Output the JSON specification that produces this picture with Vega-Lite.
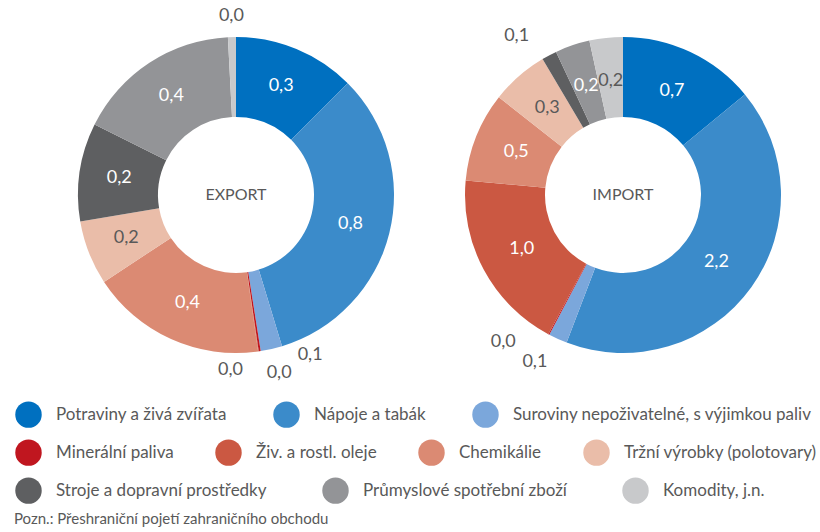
{
  "$schema": "https://vega.github.io/schema/vega-lite/v6.json",
  "background": "white",
  "padding": {"left": 14, "top": 0, "right": 0, "bottom": 0},
  "config": {
    "view": {"stroke": null},
    "font": "Lato",
    "locale": {"number": {"decimal": ",", "thousands": " ", "grouping": [3], "currency": ["", " Kč"]}},
    "legend": {"symbolType": "circle", "symbolSize": 700, "symbolStrokeWidth": 0, "symbolOpacity": 1, "labelFontSize": 17, "labelColor": "#595959", "labelFont": "Lato", "labelLimit": 0, "labelOffset": 14, "title": null, "orient": "right", "direction": "horizontal", "offset": 0, "padding": 0}
  },
  "datasets": {
    "trade": [
      {"dir": "EXPORT", "cat": "Potraviny a živá zvířata", "value": 0.306},
      {"dir": "EXPORT", "cat": "Nápoje a tabák", "value": 0.803},
      {"dir": "EXPORT", "cat": "Suroviny nepoživatelné, s výjimkou paliv", "value": 0.054},
      {"dir": "EXPORT", "cat": "Minerální paliva", "value": 0.005},
      {"dir": "EXPORT", "cat": "Živ. a rostl. oleje", "value": 0.0014},
      {"dir": "EXPORT", "cat": "Chemikálie", "value": 0.44},
      {"dir": "EXPORT", "cat": "Tržní výrobky (polotovary)", "value": 0.161},
      {"dir": "EXPORT", "cat": "Stroje a dopravní prostředky", "value": 0.246},
      {"dir": "EXPORT", "cat": "Průmyslové spotřební zboží", "value": 0.412},
      {"dir": "EXPORT", "cat": "Komodity, j.n.", "value": 0.02},
      {"dir": "IMPORT", "cat": "Potraviny a živá zvířata", "value": 0.739},
      {"dir": "IMPORT", "cat": "Nápoje a tabák", "value": 2.202},
      {"dir": "IMPORT", "cat": "Suroviny nepoživatelné, s výjimkou paliv", "value": 0.101},
      {"dir": "IMPORT", "cat": "Minerální paliva", "value": 0.006},
      {"dir": "IMPORT", "cat": "Živ. a rostl. oleje", "value": 0.982},
      {"dir": "IMPORT", "cat": "Chemikálie", "value": 0.482},
      {"dir": "IMPORT", "cat": "Tržní výrobky (polotovary)", "value": 0.31},
      {"dir": "IMPORT", "cat": "Stroje a dopravní prostředky", "value": 0.081},
      {"dir": "IMPORT", "cat": "Průmyslové spotřební zboží", "value": 0.187},
      {"dir": "IMPORT", "cat": "Komodity, j.n.", "value": 0.18}
    ]
  },
  "title": {"text": "Pozn.: Přeshraniční pojetí zahraničního obchodu", "orient": "bottom", "anchor": "start", "fontSize": 15, "fontWeight": "normal", "font": "Lato", "color": "#595959", "offset": 8},
  "spacing": 11,
  "resolve": {"scale": {"color": "independent"}},
  "vconcat": [
    {
      "spacing": 7,
      "hconcat": [
        {
          "width": 444, "height": 390,
          "data": {"name": "trade"},
          "transform": [
            {"filter": "datum.dir === 'EXPORT'"},
            {"stack": "value", "groupby": ["dir"], "as": ["v0", "v1"]},
            {"calculate": "(datum.v0 + datum.v1) / 2", "as": "vm"}
          ],
          "layer": [
            {
              "mark": {"type": "arc", "innerRadius": 78, "outerRadius": 158},
              "encoding": {
                "theta": {"field": "v1", "type": "quantitative", "scale": {"nice": false, "zero": true}},
                "theta2": {"field": "v0"},
                "color": {"field": "cat", "type": "nominal", "legend": null,
                  "scale": {"domain": ["Potraviny a živá zvířata", "Nápoje a tabák", "Suroviny nepoživatelné, s výjimkou paliv", "Minerální paliva", "Živ. a rostl. oleje", "Chemikálie", "Tržní výrobky (polotovary)", "Stroje a dopravní prostředky", "Průmyslové spotřební zboží", "Komodity, j.n."],
                    "range": ["#0070c0", "#3b8bca", "#7ba7db", "#c0161f", "#cb5842", "#db8a73", "#eabda9", "#5e5f61", "#939497", "#c8c9cb"]}}
              }
            },
            {
              "transform": [{"filter": "datum.value >= 0.15"}],
              "mark": {"type": "text", "radius": 118, "fontSize": 18},
              "encoding": {
                "theta": {"field": "vm", "type": "quantitative"},
                "text": {"field": "value", "type": "quantitative", "format": ".1f"},
                "color": {"condition": {"test": "datum.cat === 'Tržní výrobky (polotovary)' || datum.cat === 'Komodity, j.n.'", "value": "#595959"}, "value": "white"}
              }
            },
            {
              "transform": [{"filter": "datum.cat === 'Komodity, j.n.'"}],
              "mark": {"type": "text", "radius": 179, "fontSize": 18, "color": "#595959"},
              "encoding": {"theta": {"field": "vm", "type": "quantitative"}, "text": {"field": "value", "type": "quantitative", "format": ".1f"}}
            },
            {
              "transform": [{"filter": "datum.cat === 'Suroviny nepoživatelné, s výjimkou paliv'"}],
              "mark": {"type": "text", "radius": 170, "dx": 36, "dy": -6, "fontSize": 18, "color": "#595959"},
              "encoding": {"theta": {"field": "vm", "type": "quantitative"}, "text": {"field": "value", "type": "quantitative", "format": ".1f"}}
            },
            {
              "transform": [{"filter": "datum.cat === 'Minerální paliva'"}],
              "mark": {"type": "text", "radius": 170, "dx": -31, "dy": 7, "fontSize": 18, "color": "#595959"},
              "encoding": {"theta": {"field": "vm", "type": "quantitative"}, "text": {"field": "value", "type": "quantitative", "format": ".1f"}}
            },
            {
              "transform": [{"filter": "datum.cat === 'Živ. a rostl. oleje'"}],
              "mark": {"type": "text", "radius": 170, "dx": 19, "dy": 10, "fontSize": 18, "color": "#595959"},
              "encoding": {"theta": {"field": "vm", "type": "quantitative"}, "text": {"field": "value", "type": "quantitative", "format": ".1f"}}
            },
            {
              "transform": [{"filter": "datum.cat === 'Potraviny a živá zvířata'"}],
              "mark": {"type": "text", "fontSize": 16, "color": "#595959"},
              "encoding": {"text": {"field": "dir", "type": "nominal"}}
            }
          ]
        },
        {
          "width": 316, "height": 390,
          "data": {"name": "trade"},
          "transform": [
            {"filter": "datum.dir === 'IMPORT'"},
            {"stack": "value", "groupby": ["dir"], "as": ["v0", "v1"]},
            {"calculate": "(datum.v0 + datum.v1) / 2", "as": "vm"}
          ],
          "layer": [
            {
              "mark": {"type": "arc", "innerRadius": 78, "outerRadius": 158},
              "encoding": {
                "theta": {"field": "v1", "type": "quantitative", "scale": {"nice": false, "zero": true}},
                "theta2": {"field": "v0"},
                "color": {"field": "cat", "type": "nominal", "legend": null,
                  "scale": {"domain": ["Potraviny a živá zvířata", "Nápoje a tabák", "Suroviny nepoživatelné, s výjimkou paliv", "Minerální paliva", "Živ. a rostl. oleje", "Chemikálie", "Tržní výrobky (polotovary)", "Stroje a dopravní prostředky", "Průmyslové spotřební zboží", "Komodity, j.n."],
                    "range": ["#0070c0", "#3b8bca", "#7ba7db", "#c0161f", "#cb5842", "#db8a73", "#eabda9", "#5e5f61", "#939497", "#c8c9cb"]}}
              }
            },
            {
              "transform": [{"filter": "datum.value >= 0.15"}],
              "mark": {"type": "text", "radius": 115, "fontSize": 18},
              "encoding": {
                "theta": {"field": "vm", "type": "quantitative"},
                "text": {"field": "value", "type": "quantitative", "format": ".1f"},
                "color": {"condition": {"test": "datum.cat === 'Tržní výrobky (polotovary)' || datum.cat === 'Komodity, j.n.'", "value": "#595959"}, "value": "white"}
              }
            },
            {
              "transform": [{"filter": "datum.cat === 'Suroviny nepoživatelné, s výjimkou paliv'"}],
              "mark": {"type": "text", "radius": 170, "dx": -18, "dy": 12, "fontSize": 18, "color": "#595959"},
              "encoding": {"theta": {"field": "vm", "type": "quantitative"}, "text": {"field": "value", "type": "quantitative", "format": ".1f"}}
            },
            {
              "transform": [{"filter": "datum.cat === 'Minerální paliva'"}],
              "mark": {"type": "text", "radius": 170, "dx": -40, "dy": -3, "fontSize": 18, "color": "#595959"},
              "encoding": {"theta": {"field": "vm", "type": "quantitative"}, "text": {"field": "value", "type": "quantitative", "format": ".1f"}}
            },
            {
              "transform": [{"filter": "datum.cat === 'Stroje a dopravní prostředky'"}],
              "mark": {"type": "text", "radius": 170, "dx": -27, "dy": -9, "fontSize": 18, "color": "#595959"},
              "encoding": {"theta": {"field": "vm", "type": "quantitative"}, "text": {"field": "value", "type": "quantitative", "format": ".1f"}}
            },
            {
              "transform": [{"filter": "datum.cat === 'Potraviny a živá zvířata'"}],
              "mark": {"type": "text", "fontSize": 16, "color": "#595959"},
              "encoding": {"text": {"field": "dir", "type": "nominal"}}
            }
          ]
        }
      ]
    },
    {
      "width": 1, "height": 1,
      "data": {"name": "trade"},
      "transform": [{"filter": "datum.dir === 'EXPORT' && indexof(['Potraviny a živá zvířata', 'Nápoje a tabák', 'Suroviny nepoživatelné, s výjimkou paliv'], datum.cat) >= 0"}],
      "mark": {"type": "point", "filled": true, "opacity": 0, "size": 0},
      "encoding": {
        "color": {"field": "cat", "type": "nominal",
          "scale": {"domain": ["Potraviny a živá zvířata", "Nápoje a tabák", "Suroviny nepoživatelné, s výjimkou paliv"], "range": ["#0070c0", "#3b8bca", "#7ba7db"]},
          "legend": {"columns": 3, "columnPadding": 46}}
      }
    },
    {
      "width": 1, "height": 1,
      "data": {"name": "trade"},
      "transform": [{"filter": "datum.dir === 'EXPORT' && indexof(['Minerální paliva', 'Živ. a rostl. oleje', 'Chemikálie', 'Tržní výrobky (polotovary)'], datum.cat) >= 0"}],
      "mark": {"type": "point", "filled": true, "opacity": 0, "size": 0},
      "encoding": {
        "color": {"field": "cat", "type": "nominal",
          "scale": {"domain": ["Minerální paliva", "Živ. a rostl. oleje", "Chemikálie", "Tržní výrobky (polotovary)"], "range": ["#c0161f", "#cb5842", "#db8a73", "#eabda9"]},
          "legend": {"columns": 4, "columnPadding": 41}}
      }
    },
    {
      "width": 1, "height": 1,
      "data": {"name": "trade"},
      "transform": [{"filter": "datum.dir === 'EXPORT' && indexof(['Stroje a dopravní prostředky', 'Průmyslové spotřební zboží', 'Komodity, j.n.'], datum.cat) >= 0"}],
      "mark": {"type": "point", "filled": true, "opacity": 0, "size": 0},
      "encoding": {
        "color": {"field": "cat", "type": "nominal",
          "scale": {"domain": ["Stroje a dopravní prostředky", "Průmyslové spotřební zboží", "Komodity, j.n."], "range": ["#5e5f61", "#939497", "#c8c9cb"]},
          "legend": {"columns": 3, "columnPadding": 55}}
      }
    }
  ]
}
